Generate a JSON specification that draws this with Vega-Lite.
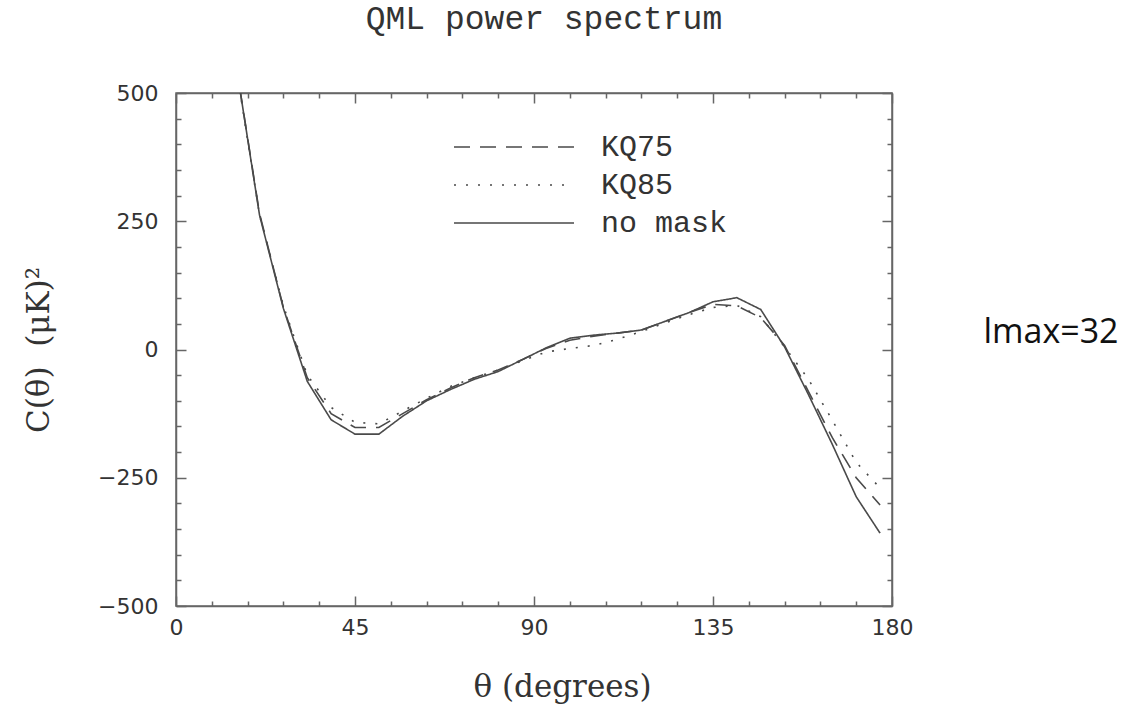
{
  "$schema": "https://vega.github.io/schema/vega-lite/v6.json",
  "width": 716,
  "height": 513,
  "autosize": {"type": "none"},
  "padding": {"left": 176, "top": 93, "right": 234, "bottom": 112},
  "background": "white",
  "config": {
    "view": {"stroke": "#666", "strokeWidth": 1.5},
    "axis": {"domainColor": "#666", "domainWidth": 1.5, "tickColor": "#666", "tickWidth": 1.5, "grid": false, "labelColor": "#333", "titleColor": "#333", "labelFlush": false}
  },
  "title": {"text": "QML power spectrum", "font": "Liberation Mono", "fontSize": 33, "fontWeight": "normal", "color": "#333", "offset": 46, "anchor": "middle", "dx": 10},
  "layer": [
    {
      "data": {"values": [
        {"theta": 15, "C": 560, "series": "no mask"},
        {"theta": 21, "C": 262, "series": "no mask"},
        {"theta": 27, "C": 80, "series": "no mask"},
        {"theta": 33, "C": -62, "series": "no mask"},
        {"theta": 39, "C": -137, "series": "no mask"},
        {"theta": 45, "C": -165, "series": "no mask"},
        {"theta": 51, "C": -165, "series": "no mask"},
        {"theta": 57, "C": -130, "series": "no mask"},
        {"theta": 63, "C": -100, "series": "no mask"},
        {"theta": 69, "C": -78, "series": "no mask"},
        {"theta": 75, "C": -58, "series": "no mask"},
        {"theta": 81, "C": -43, "series": "no mask"},
        {"theta": 87, "C": -20, "series": "no mask"},
        {"theta": 93, "C": 3, "series": "no mask"},
        {"theta": 99, "C": 22, "series": "no mask"},
        {"theta": 105, "C": 28, "series": "no mask"},
        {"theta": 111, "C": 32, "series": "no mask"},
        {"theta": 117, "C": 38, "series": "no mask"},
        {"theta": 123, "C": 55, "series": "no mask"},
        {"theta": 129, "C": 72, "series": "no mask"},
        {"theta": 135, "C": 93, "series": "no mask"},
        {"theta": 141, "C": 101, "series": "no mask"},
        {"theta": 147, "C": 78, "series": "no mask"},
        {"theta": 153, "C": 5, "series": "no mask"},
        {"theta": 159, "C": -88, "series": "no mask"},
        {"theta": 165, "C": -185, "series": "no mask"},
        {"theta": 171, "C": -287, "series": "no mask"},
        {"theta": 177, "C": -358, "series": "no mask"},
        {"theta": 15, "C": 560, "series": "KQ75"},
        {"theta": 21, "C": 265, "series": "KQ75"},
        {"theta": 27, "C": 82, "series": "KQ75"},
        {"theta": 33, "C": -55, "series": "KQ75"},
        {"theta": 39, "C": -125, "series": "KQ75"},
        {"theta": 45, "C": -152, "series": "KQ75"},
        {"theta": 51, "C": -152, "series": "KQ75"},
        {"theta": 57, "C": -125, "series": "KQ75"},
        {"theta": 63, "C": -98, "series": "KQ75"},
        {"theta": 69, "C": -75, "series": "KQ75"},
        {"theta": 75, "C": -55, "series": "KQ75"},
        {"theta": 81, "C": -40, "series": "KQ75"},
        {"theta": 87, "C": -20, "series": "KQ75"},
        {"theta": 93, "C": 2, "series": "KQ75"},
        {"theta": 99, "C": 18, "series": "KQ75"},
        {"theta": 105, "C": 26, "series": "KQ75"},
        {"theta": 111, "C": 32, "series": "KQ75"},
        {"theta": 117, "C": 38, "series": "KQ75"},
        {"theta": 123, "C": 55, "series": "KQ75"},
        {"theta": 129, "C": 72, "series": "KQ75"},
        {"theta": 135, "C": 88, "series": "KQ75"},
        {"theta": 141, "C": 85, "series": "KQ75"},
        {"theta": 147, "C": 62, "series": "KQ75"},
        {"theta": 153, "C": 8, "series": "KQ75"},
        {"theta": 159, "C": -82, "series": "KQ75"},
        {"theta": 165, "C": -172, "series": "KQ75"},
        {"theta": 171, "C": -250, "series": "KQ75"},
        {"theta": 177, "C": -303, "series": "KQ75"},
        {"theta": 15, "C": 555, "series": "KQ85"},
        {"theta": 21, "C": 262, "series": "KQ85"},
        {"theta": 27, "C": 85, "series": "KQ85"},
        {"theta": 33, "C": -50, "series": "KQ85"},
        {"theta": 39, "C": -113, "series": "KQ85"},
        {"theta": 45, "C": -142, "series": "KQ85"},
        {"theta": 51, "C": -145, "series": "KQ85"},
        {"theta": 57, "C": -120, "series": "KQ85"},
        {"theta": 63, "C": -95, "series": "KQ85"},
        {"theta": 69, "C": -72, "series": "KQ85"},
        {"theta": 75, "C": -55, "series": "KQ85"},
        {"theta": 81, "C": -40, "series": "KQ85"},
        {"theta": 87, "C": -22, "series": "KQ85"},
        {"theta": 93, "C": -5, "series": "KQ85"},
        {"theta": 99, "C": 2, "series": "KQ85"},
        {"theta": 105, "C": 8, "series": "KQ85"},
        {"theta": 111, "C": 20, "series": "KQ85"},
        {"theta": 117, "C": 35, "series": "KQ85"},
        {"theta": 123, "C": 52, "series": "KQ85"},
        {"theta": 129, "C": 68, "series": "KQ85"},
        {"theta": 135, "C": 82, "series": "KQ85"},
        {"theta": 141, "C": 86, "series": "KQ85"},
        {"theta": 147, "C": 64, "series": "KQ85"},
        {"theta": 153, "C": 5, "series": "KQ85"},
        {"theta": 159, "C": -58, "series": "KQ85"},
        {"theta": 165, "C": -138, "series": "KQ85"},
        {"theta": 171, "C": -220, "series": "KQ85"},
        {"theta": 177, "C": -270, "series": "KQ85"}
      ]},
      "mark": {"type": "line", "clip": true, "color": "#4a4a4a", "strokeWidth": 1.6},
      "encoding": {
        "x": {"field": "theta", "type": "quantitative", "scale": {"domain": [0, 180], "nice": false, "zero": false},
          "axis": {"orient": "bottom", "values": [0,9,18,27,36,45,54,63,72,81,90,99,108,117,126,135,144,153,162,171,180],
            "labelExpr": "datum.value % 45 === 0 ? datum.label : ''",
            "tickSize": {"condition": {"test": "datum.value % 45 === 0", "value": -10}, "value": -5},
            "labelPadding": 21, "labelFont": "DejaVu Sans", "labelFontSize": 22,
            "title": "θ (degrees)", "titleFont": "DejaVu Serif", "titleFontSize": 31, "titleFontWeight": "normal", "titlePadding": 34, "titleX": 386}},
        "y": {"field": "C", "type": "quantitative", "scale": {"domain": [-500, 500], "nice": false, "zero": false},
          "axis": {"orient": "left", "values": [-500,-450,-400,-350,-300,-250,-200,-150,-100,-50,0,50,100,150,200,250,300,350,400,450,500],
            "labelExpr": "datum.value % 250 === 0 ? datum.label : ''",
            "tickSize": {"condition": {"test": "datum.value % 250 === 0", "value": -10}, "value": -5},
            "labelPadding": 28, "labelFont": "DejaVu Sans", "labelFontSize": 22,
            "title": "C(θ)\u00a0\u00a0(μK)²", "titleFont": "DejaVu Serif", "titleFontSize": 31, "titleFontWeight": "normal", "titlePadding": 42}},
        "strokeDash": {"field": "series", "type": "nominal",
          "scale": {"domain": ["KQ75", "KQ85", "no mask"], "range": [[16, 10], [2, 10], [1, 0]]},
          "legend": {"title": null, "orient": "none", "legendX": 323, "legendY": 39, "symbolType": "M-6,0H6", "symbolSize": 400,
            "symbolStrokeColor": "#4a4a4a", "symbolStrokeWidth": 1.6, "labelFont": "Liberation Mono", "labelFontSize": 30, "labelColor": "#333", "labelOffset": 72, "rowPadding": 8}}
      }
    },
    {
      "mark": {"type": "rule", "color": "#4a4a4a", "strokeDash": [2, 10], "strokeWidth": 1.5},
      "encoding": {"y": {"datum": 0, "type": "quantitative", "axis": null}}
    },
    {
      "data": {"values": [{"theta": 203, "C": 32, "label": "lmax=32"}]},
      "mark": {"type": "text", "align": "left", "baseline": "middle", "font": "Open Sans", "fontSize": 34, "color": "#111", "clip": false},
      "encoding": {
        "x": {"field": "theta", "type": "quantitative",
          "axis": {"orient": "top", "values": [0,9,18,27,36,45,54,63,72,81,90,99,108,117,126,135,144,153,162,171,180],
            "labels": false, "title": null,
            "tickSize": {"condition": {"test": "datum.value % 45 === 0", "value": -10}, "value": -5}}},
        "y": {"field": "C", "type": "quantitative",
          "axis": {"orient": "right", "values": [-500,-450,-400,-350,-300,-250,-200,-150,-100,-50,0,50,100,150,200,250,300,350,400,450,500],
            "labels": false, "title": null,
            "tickSize": {"condition": {"test": "datum.value % 250 === 0", "value": -10}, "value": -5}}},
        "text": {"field": "label"}
      }
    }
  ],
  "resolve": {"axis": {"x": "independent", "y": "independent"}}
}
